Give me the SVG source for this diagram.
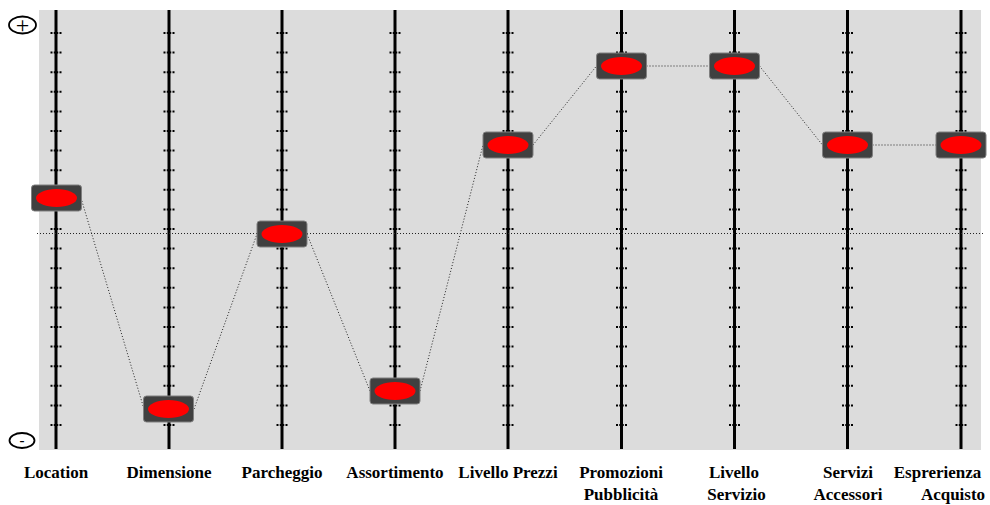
<svg xmlns="http://www.w3.org/2000/svg" xmlns:xlink="http://www.w3.org/1999/xlink" width="990" height="505" viewBox="0 0 990 505">
<style>
.axis{stroke:#000;stroke-width:3}
.tick{stroke:#000;stroke-width:2;stroke-dasharray:2 17.6}
.tickm{stroke:#000;stroke-width:4.5;stroke-dasharray:2 17.6}
.conn{stroke:#222;stroke-width:1;stroke-dasharray:1 2;fill:none}
.knob{fill:#404040;stroke:#808080;stroke-width:1}
.dot{fill:#ff0000}
.lbl{font-family:"Liberation Serif","Times New Roman",serif;font-weight:bold;font-size:17px;fill:#000;text-anchor:middle}
.sym{fill:none;stroke:#000;stroke-width:1.8}
</style>
<defs>
<g id="col">
<line class="tick" x1="-4.5" y1="32" x2="-4.5" y2="430"/>
<line class="tick" x1="4.5" y1="32" x2="4.5" y2="430"/>
<line class="tickm" x1="0" y1="32" x2="0" y2="430"/>
<line class="axis" x1="0" y1="10" x2="0" y2="449"/>
</g>
<g id="knob">
<rect class="knob" x="-25" y="-13" width="50" height="26" rx="3"/>
<ellipse class="dot" cx="0" cy="0" rx="20.5" ry="9"/>
</g>
</defs>
<rect x="39" y="10" width="942" height="440" fill="#dcdcdc"/>
<g id="axes">
<use xlink:href="#col" x="56" y="0"/>
<use xlink:href="#col" x="169" y="0"/>
<use xlink:href="#col" x="282" y="0"/>
<use xlink:href="#col" x="395" y="0"/>
<use xlink:href="#col" x="508" y="0"/>
<use xlink:href="#col" x="621.5" y="0"/>
<use xlink:href="#col" x="734.5" y="0"/>
<use xlink:href="#col" x="847.5" y="0"/>
<use xlink:href="#col" x="961" y="0"/>
</g>
<line class="conn" x1="37" y1="233.5" x2="983" y2="233.5"/>
<g id="connectors">
<line class="conn" x1="81" y1="198" x2="144" y2="409"/>
<line class="conn" x1="194" y1="409" x2="257" y2="234"/>
<line class="conn" x1="307" y1="234" x2="370" y2="391"/>
<line class="conn" x1="420" y1="391" x2="483" y2="145"/>
<line class="conn" x1="533" y1="145" x2="596.5" y2="66"/>
<line class="conn" x1="646.5" y1="66" x2="709.5" y2="66"/>
<line class="conn" x1="759.5" y1="66" x2="822.5" y2="145"/>
<line class="conn" x1="872.5" y1="145" x2="936" y2="145"/>
</g>
<g id="n-location"><use xlink:href="#knob" x="56.5" y="198"/><text class="lbl" x="56" y="478">Location</text></g>
<g id="n-dimensione"><use xlink:href="#knob" x="168.5" y="409"/><text class="lbl" x="169" y="478">Dimensione</text></g>
<g id="n-parcheggio"><use xlink:href="#knob" x="282" y="234"/><text class="lbl" x="282" y="478">Parcheggio</text></g>
<g id="n-assortimento"><use xlink:href="#knob" x="395" y="391"/><text class="lbl" x="395" y="478">Assortimento</text></g>
<g id="n-prezzi"><use xlink:href="#knob" x="508" y="145"/><text class="lbl" x="508" y="478">Livello Prezzi</text></g>
<g id="n-promozioni"><use xlink:href="#knob" x="621.5" y="66"/><text class="lbl" x="621" y="478">Promozioni</text><text class="lbl" x="621" y="500">Pubblicità</text></g>
<g id="n-servizio"><use xlink:href="#knob" x="734.5" y="66"/><text class="lbl" x="734" y="478">Livello</text><text class="lbl" x="736.5" y="500">Servizio</text></g>
<g id="n-accessori"><use xlink:href="#knob" x="847.5" y="145"/><text class="lbl" x="848" y="478">Servizi</text><text class="lbl" x="848" y="500">Accessori</text></g>
<g id="n-esperienza"><use xlink:href="#knob" x="961" y="145"/><text class="lbl" x="937.5" y="478">Esprerienza</text><text class="lbl" x="953" y="500">Acquisto</text></g>
<g id="plus">
<ellipse class="sym" cx="22.5" cy="25" rx="13.5" ry="8.5"/>
<text x="22.5" y="32.5" font-family="Liberation Serif, serif" font-size="24" text-anchor="middle">+</text>
</g>
<g id="minus">
<ellipse class="sym" cx="22" cy="440.5" rx="12.5" ry="7.5"/>
<text x="22" y="445" font-family="Liberation Serif, serif" font-weight="bold" font-size="15" text-anchor="middle">-</text>
</g>
</svg>
